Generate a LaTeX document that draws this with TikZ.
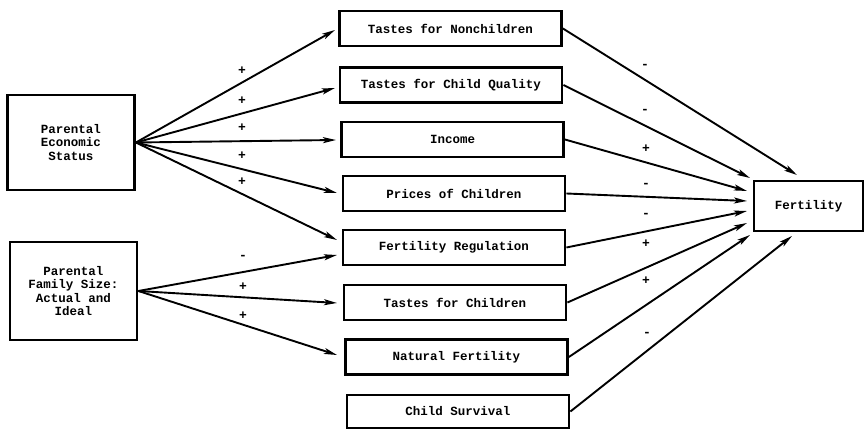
\documentclass[tikz,border=0pt]{standalone}
\usepackage{fontspec}
\usepackage{tikz}
\usetikzlibrary{positioning,arrows.meta}
\newfontfamily\typefont{Liberation Mono}
\tikzset{
	box/.style={draw,line width=2.8pt,font=\typefont\bfseries\fontsize{12.5}{13.5}\selectfont,align=center,inner sep=0pt},
	midbox/.style={box,minimum width=222pt,minimum height=35pt},
	sign/.style={font=\typefont\bfseries\fontsize{13}{13}\selectfont,inner sep=0pt},
	link/.style={line width=1.9pt,-{Stealth[length=13pt,width=6pt,inset=3pt]}}
}
\begin{document}
\begin{tikzpicture}[x=1pt,y=-1pt]
				\useasboundingbox (0,0) rectangle (865,430);
				%Nodes
				\node[box,minimum width=127pt,minimum height=95pt] (eco) at (71,142.5) {Parental\\Economic\\Status};
				\node[box,minimum width=127pt,minimum height=98pt] (fam) at (73.5,291) {Parental\\Family Size:\\Actual and\\Ideal};
				\node[midbox] (nonch) 	at 	(450.5,28.5) {Tastes for Nonchildren};
				\node[midbox] (quality) at 	(451,85) {Tastes for Child Quality};
				\node[midbox] (income) 	at 	(452.5,139.5) {Income};
				\node[midbox] (prices) 	at 	(454,193.5) {Prices of Children};
				\node[midbox] (regul) 	at 	(454,247.5) {Fertility Regulation};
				\node[midbox] (tastes) 	at 	(455,302.5) {Tastes for Children};
				\node[midbox] (natural) at 	(456.5,357) {Natural Fertility};
				\node[midbox,minimum height=33pt] (survival) at (458,411.5) {Child Survival};
				\node[box,minimum width=109pt,minimum height=50pt] (fert) at (808.5,206) {Fertility};
				\coordinate      (e1) 	at 	(335,30);
				\coordinate      (e2) 	at 	(335,88);
				\coordinate      (e3) 	at 	(336,140);
				\coordinate      (e4) 	at 	(337,193);
				\coordinate      (e5) 	at 	(337,240);
				\coordinate      (e6) 	at 	(337,255);
				\coordinate      (e7) 	at 	(337,303);
				\coordinate      (e8) 	at 	(337,355);
				\coordinate      (f1) 	at 	(797,175);
				\coordinate      (f2) 	at 	(750,178);
				\coordinate      (f3) 	at 	(747,191);
				\coordinate      (f4) 	at 	(747,201);
				\coordinate      (f5) 	at 	(747,211);
				\coordinate      (f6) 	at 	(747,223);
				\coordinate      (f7) 	at 	(750,235);
				\coordinate      (f8) 	at 	(792,236);

				%Lines
				\draw[link] (eco.east) -- (e1);
				\draw[link] (eco.east) -- (e2);
				\draw[link] (eco.east) -- (e3);
				\draw[link] (eco.east) -- (e4);
				\draw[link] (eco.east) -- (e5);
				\draw[link] (fam.east) -- (e6);
				\draw[link] (fam.east) -- (e7);
				\draw[link] (fam.east) -- (e8);

				\draw[link] (nonch.east) -- (f1);
				\draw[link] (quality.east) -- (f2);
				\draw[link] (income.east) -- (f3);
				\draw[link] (prices.east) -- (f4);
				\draw[link] (regul.east) -- (f5);
				\draw[link] (tastes.east) -- (f6);
				\draw[link] (natural.east) -- (f7);
				\draw[link] (survival.east) -- (f8);

				%Signs
				\node[sign] (s1) at (242,71) {+};
				\node[sign] (s2) at (242,101) {+};
				\node[sign] (s3) at (242,128) {+};
				\node[sign] (s4) at (242,156) {+};
				\node[sign] (s5) at (242,182) {+};
				\node[sign] (s6) at (243,257) {-};
				\node[sign] (s7) at (243,287) {+};
				\node[sign] (s8) at (243,316) {+};
				\node[sign] (r1) at (645,66) {-};
				\node[sign] (r2) at (645,111) {-};
				\node[sign] (r3) at (646,149) {+};
				\node[sign] (r4) at (646,185) {-};
				\node[sign] (r5) at (646,215) {-};
				\node[sign] (r6) at (646,244) {+};
				\node[sign] (r7) at (646,281) {+};
				\node[sign] (r8) at (647,334) {-};
		\end{tikzpicture}
\end{document}
